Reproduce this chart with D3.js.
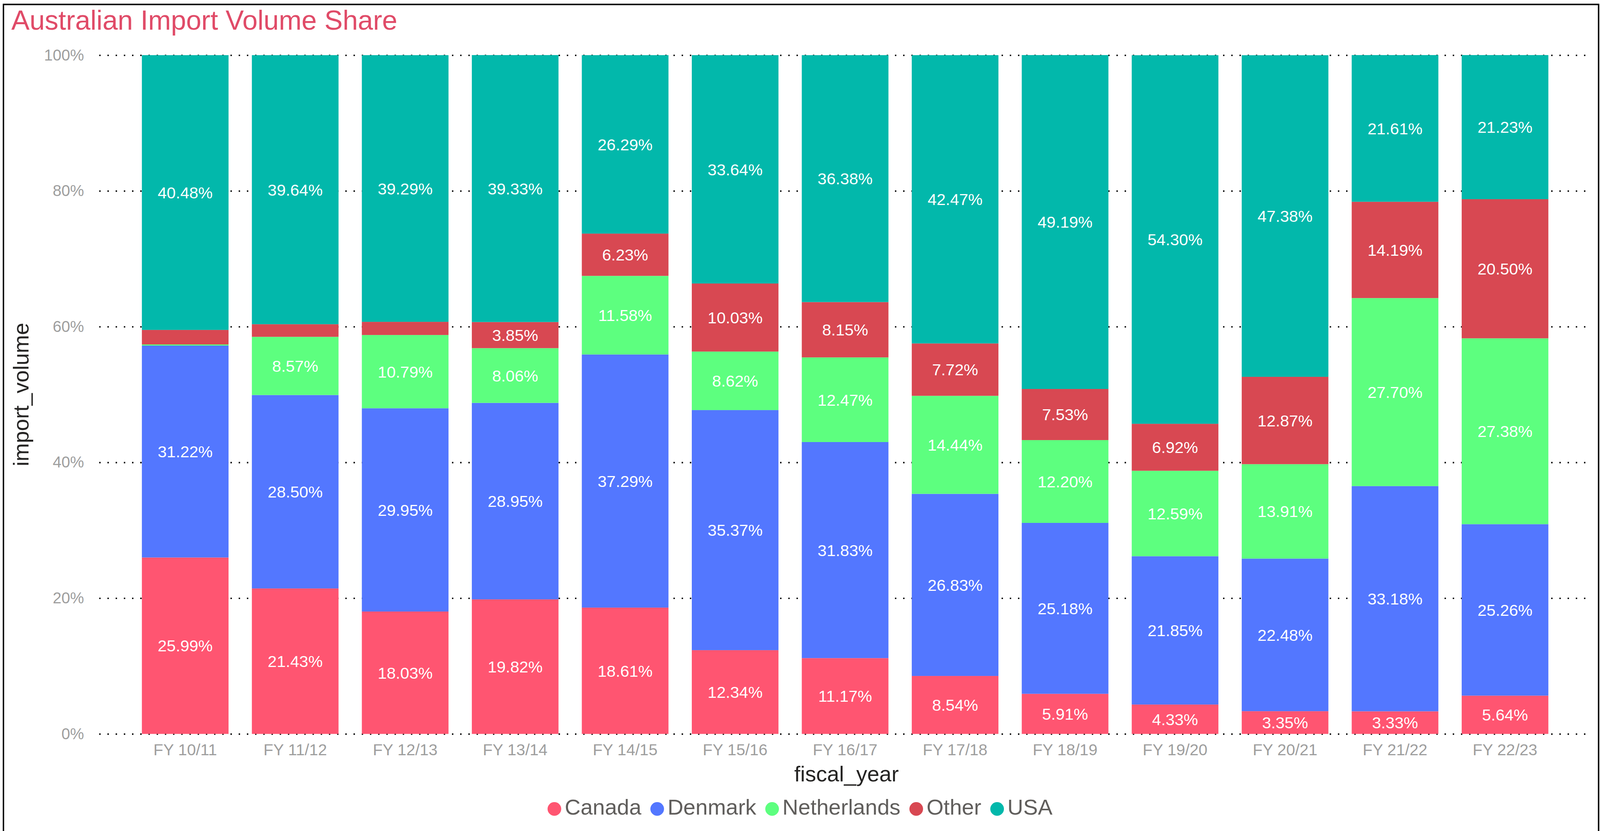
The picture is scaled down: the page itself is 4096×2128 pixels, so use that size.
<!DOCTYPE html>
<html>
<head>
<meta charset="utf-8">
<script src="https://cdn.jsdelivr.net/npm/d3@7"></script>
<style>
  html, body { margin: 0; padding: 0; background: #ffffff; }
  svg { display: block; }
</style>
</head>
<body>
<script>
// ---------------- DATA ----------------
const fiscalYears = ["FY 10/11","FY 11/12","FY 12/13","FY 13/14","FY 14/15","FY 15/16","FY 16/17","FY 17/18","FY 18/19","FY 19/20","FY 20/21","FY 21/22","FY 22/23"];
const seriesNames = ["Canada","Denmark","Netherlands","Other","USA"];
const canada      = [25.99, 21.43, 18.03, 19.82, 18.61, 12.34, 11.17,  8.54,  5.91,  4.33,  3.35,  3.33,  5.64];
const denmark     = [31.22, 28.50, 29.95, 28.95, 37.29, 35.37, 31.83, 26.83, 25.18, 21.85, 22.48, 33.18, 25.26];
const netherlands = [ 0.17,  8.57, 10.79,  8.06, 11.58,  8.62, 12.47, 14.44, 12.20, 12.59, 13.91, 27.70, 27.38];
const other       = [ 2.14,  1.86,  1.94,  3.85,  6.23, 10.03,  8.15,  7.72,  7.53,  6.92, 12.87, 14.19, 20.50];
const usa         = [40.48, 39.64, 39.29, 39.33, 26.29, 33.64, 36.38, 42.47, 49.19, 54.30, 47.38, 21.61, 21.23];
const yTicks = [0, 20, 40, 60, 80, 100];
const seriesColors = ["#FF5571", "#5377FF", "#5DFF7F", "#D84852", "#02B8AB"];
const titleText = "Australian Import Volume Share";
const xTitle = "fiscal_year";
const yTitle = "import_volume";

// -------------- LAYOUT -----------------
const W = 4096, H = 2128;
const FONT = "'Liberation Sans', Arial, Helvetica, sans-serif";
const gx0 = 254, gx1 = 4072, yTop = 141.2, yBot = 1879.4;
const bx0 = 253.4, bx1 = 4073.6;

const rows = fiscalYears.map((fy, i) => ({
  fy, Canada: canada[i], Denmark: denmark[i], Netherlands: netherlands[i], Other: other[i], USA: usa[i]
}));

const svg = d3.select("body").append("svg")
  .attr("width", W).attr("height", H)
  .style("font-family", FONT);

svg.append("rect").attr("width", W).attr("height", H).attr("fill", "#ffffff");

// frame (left, top, right)
svg.append("path")
  .attr("d", `M8.8,${H + 10} L8.8,11.4 L4092.4,11.4 L4092.4,${H + 10}`)
  .attr("fill", "none").attr("stroke", "#000").attr("stroke-width", 3.6);

const x = d3.scaleBand().domain(fiscalYears).range([bx0, bx1]).paddingInner(0.212).paddingOuter(0.39);
const y = d3.scaleLinear().domain([0, 100]).range([yBot, yTop]);
const color = d3.scaleOrdinal().domain(seriesNames).range(seriesColors);

// gridlines (dotted)
const grid = svg.append("g").attr("transform", `translate(${gx0},0)`)
  .call(d3.axisLeft(y).tickValues(yTicks).tickSize(-(gx1 - gx0)).tickFormat(""));
grid.select(".domain").remove();
grid.selectAll("line")
  .attr("stroke", "#000").attr("stroke-width", 3.6)
  .attr("stroke-dasharray", "3.6,17.4");

// y tick labels
const yAxis = svg.append("g").attr("transform", `translate(${gx0},0)`)
  .call(d3.axisLeft(y).tickValues(yTicks).tickSize(0).tickPadding(39).tickFormat(d => d + "%"));
yAxis.select(".domain").remove();
yAxis.selectAll("text").attr("fill", "#9E9E9E").style("font-size", "40px").style("font-family", FONT);

// stacked bars
const stack = d3.stack().keys(seriesNames);
const layers = stack(rows);

const layerG = svg.append("g").selectAll("g").data(layers).join("g")
  .attr("fill", d => color(d.key));
layerG.selectAll("rect").data(d => d).join("rect")
  .attr("x", d => x(d.data.fy))
  .attr("width", x.bandwidth())
  .attr("y", d => y(d[1]))
  .attr("height", d => y(d[0]) - y(d[1]));

// data labels
const labelG = svg.append("g");
layers.forEach(layer => {
  layer.forEach(d => {
    const v = d[1] - d[0];
    if (v < 3) return;
    labelG.append("text")
      .attr("x", x(d.data.fy) + x.bandwidth() / 2)
      .attr("y", (y(d[0]) + y(d[1])) / 2)
      .attr("dy", "0.36em")
      .attr("text-anchor", "middle")
      .attr("fill", "#ffffff")
      .style("font-size", "41.5px")
      .text(d.data[layer.key].toFixed(2) + "%");
  });
});

// x axis labels
const xAxis = svg.append("g").attr("transform", `translate(0,${yBot})`)
  .call(d3.axisBottom(x).tickSize(0).tickPadding(25.5));
xAxis.select(".domain").remove();
xAxis.selectAll("text").attr("fill", "#9E9E9E").style("font-size", "41px").style("font-family", FONT);

// axis titles
svg.append("text")
  .attr("x", (gx0 + gx1) / 2 + 4).attr("y", 2001)
  .attr("text-anchor", "middle").attr("fill", "#252423")
  .style("font-size", "56px").text(xTitle);

svg.append("text")
  .attr("transform", `translate(73,${(yTop + yBot) / 2}) rotate(-90)`)
  .attr("text-anchor", "middle").attr("fill", "#252423")
  .style("font-size", "56px").text(yTitle);

// title
svg.append("text")
  .attr("x", 29).attr("y", 76)
  .attr("fill", "#E04B68")
  .style("font-size", "70px").text(titleText);

// legend
const legend = svg.append("g");
const r = 17.5, gapCT = 9, gapItem = 23;
const items = seriesNames.map(name => {
  const g = legend.append("g");
  g.append("circle").attr("r", r).attr("cy", 2071.5).attr("fill", color(name));
  const t = g.append("text").attr("y", 2086).attr("fill", "#605E5C")
    .style("font-size", "56px").text(name);
  return { g, t, w: t.node().getComputedTextLength() };
});
let total = 0;
items.forEach((it, i) => { total += 2 * r + gapCT + it.w + (i < items.length - 1 ? gapItem : 0); });
let cx = W / 2 - total / 2;
items.forEach(it => {
  it.g.select("circle").attr("cx", cx + r);
  it.t.attr("x", cx + 2 * r + gapCT);
  cx += 2 * r + gapCT + it.w + gapItem;
});
</script>
</body>
</html>
